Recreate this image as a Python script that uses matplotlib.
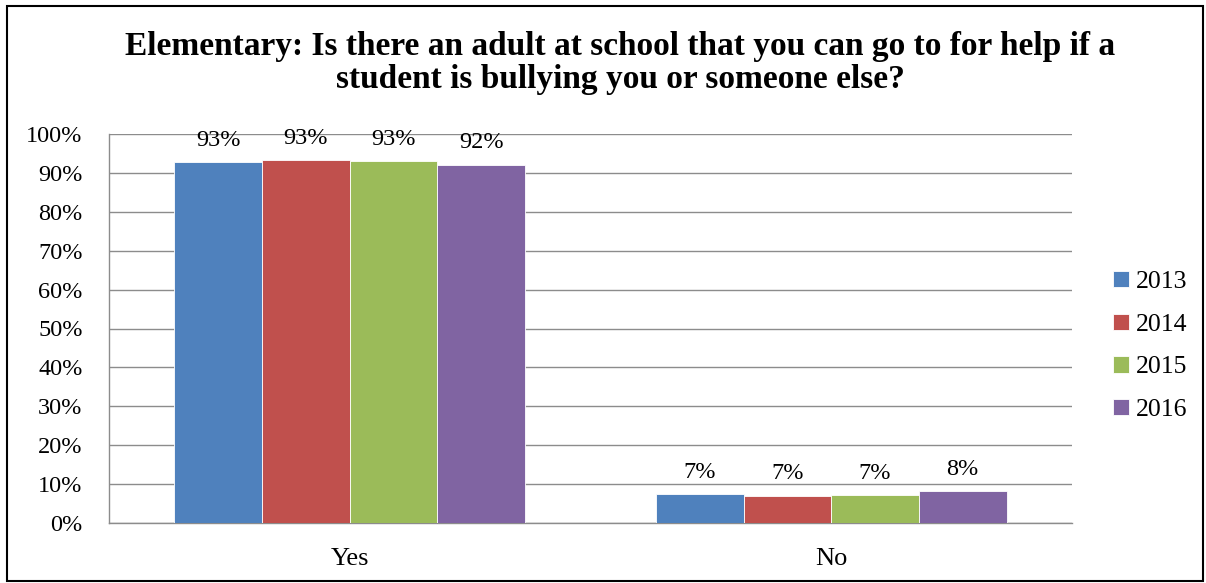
import matplotlib.pyplot as plt
import numpy as np
from matplotlib.patches import Rectangle

plt.rcParams["font.family"] = ["Liberation Serif", "DejaVu Serif"]

# Data
categories = ["Yes", "No"]
years = ["2013", "2014", "2015", "2016"]
values = {
    "2013": [92.7, 7.4],
    "2014": [93.2, 6.9],
    "2015": [93.0, 7.1],
    "2016": [92.1, 8.1],
}
labels = {
    "2013": ["93%", "7%"],
    "2014": ["93%", "7%"],
    "2015": ["93%", "7%"],
    "2016": ["92%", "8%"],
}
colors = ["#4F81BD", "#C0504D", "#9BBB59", "#8064A2"]

fig = plt.figure(figsize=(12.06, 5.83), dpi=100)
ax = fig.add_axes([109 / 1206, 1 - 523 / 583, (1072 - 109) / 1206, (523 - 134) / 583])

x = np.arange(len(categories))
width = 0.182
for i, yr in enumerate(years):
    pos = x + (i - 1.5) * width
    bars = ax.bar(pos, values[yr], width, color=colors[i], edgecolor="white",
                  linewidth=0.6, label=yr, zorder=3)
    for b, lab in zip(bars, labels[yr]):
        ax.text(b.get_x() + b.get_width() / 2, b.get_height() + 3.0, lab,
                ha="center", va="bottom", fontsize=17.5, zorder=4)

ax.set_xlim(-0.5, 1.5)
ax.set_ylim(0, 100)
ax.set_yticks(np.arange(0, 101, 10))
ax.set_yticklabels([f"{v}%" for v in range(0, 101, 10)], fontsize=17.5)
ax.set_xticks(x)
ax.set_xticklabels(categories, fontsize=19)
ax.tick_params(axis="x", length=0, pad=18)
ax.tick_params(axis="y", length=0, pad=19)
ax.grid(axis="y", color="#8C8C8C", linewidth=1.0, zorder=0)
for s in ["top", "right"]:
    ax.spines[s].set_visible(False)
for s in ["left", "bottom"]:
    ax.spines[s].set_color("#8C8C8C")
    ax.spines[s].set_linewidth(1.0)

leg = fig.legend(loc="center left", bbox_to_anchor=(1090 / 1206, 1 - 346 / 583),
                 frameon=False, fontsize=18.5, handlelength=0.6, handleheight=0.6,
                 handletextpad=0.3, labelspacing=0.8)

fig.text(620 / 1206, 1 - 63 / 583,
         "Elementary: Is there an adult at school that you can go to for help if a\n"
         "student is bullying you or someone else?",
         ha="center", va="center", fontsize=24, fontweight="bold", linespacing=1.1)

fig.patches.append(Rectangle((7 / 1206, 2 / 583), 1196 / 1206, 575 / 583,
                             transform=fig.transFigure, fill=False,
                             edgecolor="black", linewidth=1.5))

fig.savefig("out.png", dpi=100)
